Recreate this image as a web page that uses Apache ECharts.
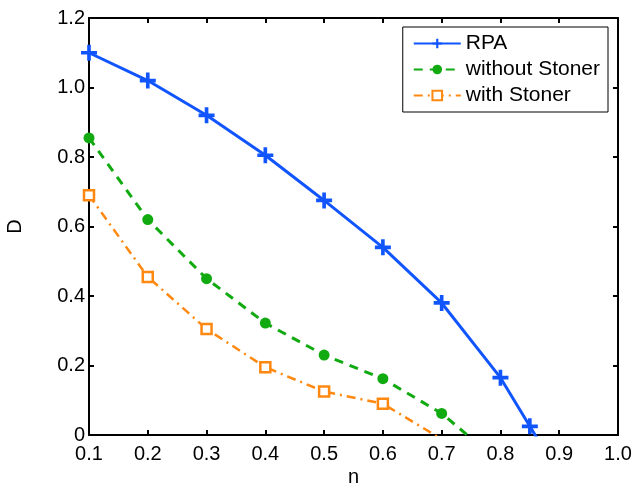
<!DOCTYPE html>
<html><head><meta charset="utf-8">
<script src="https://cdn.jsdelivr.net/npm/echarts@6/dist/echarts.min.js"></script>
<style>html,body{margin:0;padding:0;background:#fff}#c{width:637px;height:483px}</style>
</head><body><div id="c"></div>
<script>
const xTicks = [0.1,0.2,0.3,0.4,0.5,0.6,0.7,0.8,0.9,1.0];
const yTicks = [0,0.2,0.4,0.6,0.8,1.0,1.2];
const rpaN = [0.1,0.2,0.3,0.4,0.5,0.6,0.7,0.8,0.85,0.9];
const rpaD = [1.10,1.02,0.92,0.805,0.675,0.54,0.38,0.165,0.025,-0.115];
const woN = [0.1,0.2,0.3,0.4,0.5,0.6,0.7,0.8];
const woD = [0.855,0.62,0.45,0.322,0.23,0.162,0.062,-0.08];
const wN = [0.1,0.2,0.3,0.4,0.5,0.6,0.7];
const wD = [0.69,0.455,0.305,0.195,0.125,0.09,-0.012];
const names = ['RPA','without Stoner','with Stoner'];

const plus = 'path://M-1.6,-7H1.6V-1.6H7V1.6H1.6V7H-1.6V1.6H-7V-1.6H-1.6Z';
function pts(xs, ys, lastHidden){
  return xs.map((x,i)=>{
    const p = {value:[x, ys[i]]};
    if (lastHidden && i===xs.length-1) p.symbol='none';
    return p;
  });
}
const font = 'Liberation Sans, Arial, sans-serif';
const chart = echarts.init(document.getElementById('c'), null, {renderer:'canvas'});
const axisCommon = {
  axisLine:{show:true,onZero:false,lineStyle:{color:'#000',width:2}},
  axisTick:{show:true,inside:true,length:5,lineStyle:{color:'#000',width:2}},
  splitLine:{show:false}
};
chart.setOption({
  animation:false,
  grid:{left:89,right:19,top:18,bottom:48,containLabel:false,outerBoundsMode:'none'},
  xAxis:[
    Object.assign({type:'value',min:0.1,max:1.0,interval:0.1,position:'bottom',
      name:'n',nameLocation:'middle',nameGap:32,nameMoveOverlap:false,
      nameTextStyle:{fontFamily:font,fontSize:20,color:'#000'},
      axisLabel:{fontFamily:font,fontSize:20,color:'#000',margin:9,
        formatter:v=>v.toFixed(1)}}, axisCommon),
    Object.assign({type:'value',min:0.1,max:1.0,interval:0.1,position:'top',
      axisLabel:{show:false}}, axisCommon)
  ],
  yAxis:[
    Object.assign({type:'value',min:0,max:1.2,interval:0.2,position:'left',
      name:'D',nameLocation:'middle',nameGap:64,
      nameTextStyle:{fontFamily:font,fontSize:20,color:'#000'},
      axisLabel:{fontFamily:font,fontSize:20,color:'#000',margin:4,
        formatter:v=>v===0?'0':v.toFixed(1)}}, axisCommon),
    Object.assign({type:'value',min:0,max:1.2,interval:0.2,position:'right',
      axisLabel:{show:false}}, axisCommon)
  ],
  legend:{
    right:29,top:27,orient:'vertical',
    itemWidth:47,itemHeight:12,itemGap:5,
    padding:[6,8,6,10],
    borderColor:'#000',borderWidth:1,backgroundColor:'#fff',
    textStyle:{fontFamily:font,fontSize:21,color:'#000'},
    data:names
  },
  series:[
    {name:names[0],type:'line',data:pts(rpaN,rpaD,true),clip:true,
      symbol:plus,symbolSize:16,
      lineStyle:{color:'#1155ff',width:3},
      itemStyle:{color:'#1155ff'}},
    {name:names[1],type:'line',data:pts(woN,woD,true),clip:true,
      symbol:'circle',symbolSize:11,
      lineStyle:{color:'#11aa11',width:3,type:[9,7]},
      itemStyle:{color:'#11aa11'}},
    {name:names[2],type:'line',data:pts(wN,wD,true),clip:true,
      symbol:'rect',symbolSize:10,
      lineStyle:{color:'#ff8811',width:2.5,type:[9,5,2,5]},
      itemStyle:{color:'#fff',borderColor:'#ff8811',borderWidth:2.5}}
  ]
});
</script></body></html>
